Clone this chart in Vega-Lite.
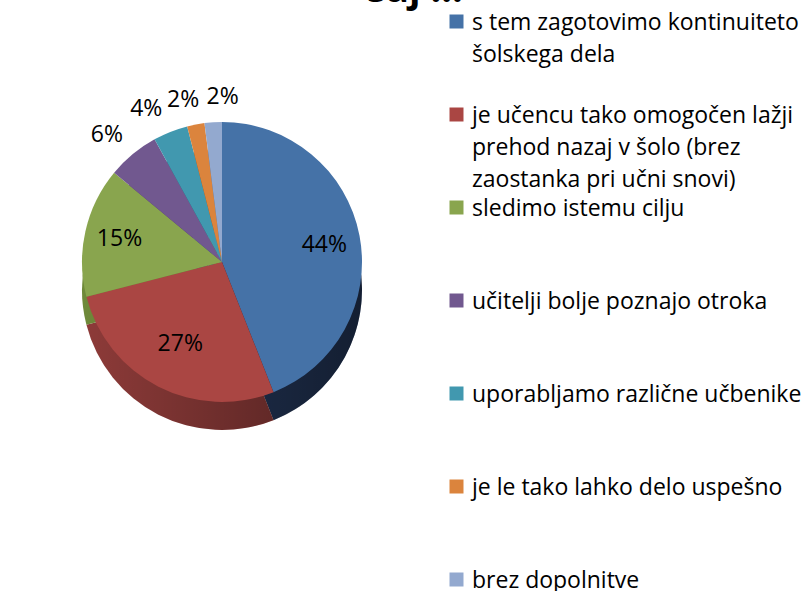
{
  "$schema": "https://vega.github.io/schema/vega-lite/v6.json",
  "width": 444,
  "height": 524,
  "autosize": "none",
  "padding": {"left": 0, "top": 0, "right": 363, "bottom": 67},
  "background": "white",
  "title": {"text": "saj ...", "font": "Open Sans", "fontSize": 38, "fontWeight": "bold", "color": "black", "anchor": "middle", "dx": 193, "baseline": "alphabetic", "offset": -40},
  "data": {"values": [
    {"i": 1, "cat": "s tem zagotovimo kontinuiteto|šolskega dela", "v": 0.44},
    {"i": 2, "cat": "je učencu tako omogočen lažji|prehod nazaj v šolo (brez|zaostanka pri učni snovi)", "v": 0.27},
    {"i": 3, "cat": "sledimo istemu cilju", "v": 0.15},
    {"i": 4, "cat": "učitelji bolje poznajo otroka", "v": 0.06},
    {"i": 5, "cat": "uporabljamo različne učbenike", "v": 0.04},
    {"i": 6, "cat": "je le tako lahko delo uspešno", "v": 0.02},
    {"i": 7, "cat": "brez dopolnitve", "v": 0.02}
  ]},
  "layer": [
    {
      "mark": {"type": "arc", "radius": 140, "yOffset": 28},
      "encoding": {
        "theta": {"field": "v", "type": "quantitative", "stack": true},
        "order": {"field": "i", "type": "quantitative"},
        "color": {"field": "cat", "type": "nominal", "legend": null,
          "scale": {"domain": ["s tem zagotovimo kontinuiteto|šolskega dela", "je učencu tako omogočen lažji|prehod nazaj v šolo (brez|zaostanka pri učni snovi)", "sledimo istemu cilju", "učitelji bolje poznajo otroka", "uporabljamo različne učbenike", "je le tako lahko delo uspešno", "brez dopolnitve"],
            "range": ["#24375A", "#8E3B39", "#6F8A3A", "#574475", "#307487", "#A9622C", "#6F83A6"]}}
      }
    },
    {
      "transform": [{"aggregate": [{"op": "sum", "field": "v", "as": "v"}]}],
      "mark": {"type": "arc", "radius": 140, "yOffset": 28,
        "fill": {"gradient": "linear", "x1": 0, "y1": 0, "x2": 1, "y2": 0,
          "stops": [{"offset": 0, "color": "rgba(0,0,0,0)"}, {"offset": 1, "color": "rgba(0,0,0,0.45)"}]}},
      "encoding": {"theta": {"field": "v", "type": "quantitative"}}
    },
    {
      "mark": {"type": "arc", "radius": 140},
      "encoding": {
        "theta": {"field": "v", "type": "quantitative", "stack": true},
        "order": {"field": "i", "type": "quantitative"},
        "color": {"field": "cat", "type": "nominal",
          "scale": {"domain": ["s tem zagotovimo kontinuiteto|šolskega dela", "je učencu tako omogočen lažji|prehod nazaj v šolo (brez|zaostanka pri učni snovi)", "sledimo istemu cilju", "učitelji bolje poznajo otroka", "uporabljamo različne učbenike", "je le tako lahko delo uspešno", "brez dopolnitve"],
            "range": ["#4572A7", "#AA4643", "#89A54E", "#71588F", "#4198AF", "#DB843D", "#93A9CF"]},
          "legend": {"title": null, "orient": "right", "offset": -9, "padding": 10,
            "symbolType": "square", "symbolSize": 196, "symbolStrokeWidth": 0,
            "labelFont": "Open Sans", "labelFontSize": 23, "labelColor": "black", "labelLimit": 400,
            "labelOffset": 4, "labelBaseline": "alphabetic", "gridAlign": "all", "rowPadding": 4,
            "labelExpr": "split(datum.label, '|')",
            "encode": {"labels": {"update": {"dy": {"value": 8}, "lineHeight": {"value": 32}}}}}
        }
      }
    },
    {
      "mark": {"type": "text", "font": "Open Sans", "fontSize": 23, "color": "black",
        "radius": {"expr": "datum.v < 0.1 ? 165 : datum.v < 0.2 ? 105 : 92"},
        "dx": {"expr": "datum.i == 6 ? -8 : datum.i == 7 ? 11 : datum.i == 5 ? -15 : datum.i == 4 ? -10 : datum.i == 1 ? 12 : 0"}},
      "encoding": {
        "theta": {"field": "v", "type": "quantitative", "stack": true},
        "order": {"field": "i", "type": "quantitative"},
        "detail": {"field": "cat", "type": "nominal"},
        "text": {"field": "v", "type": "quantitative", "format": ".0%"}
      }
    }
  ],
  "resolve": {"scale": {"color": "independent", "theta": "independent"}}
}
